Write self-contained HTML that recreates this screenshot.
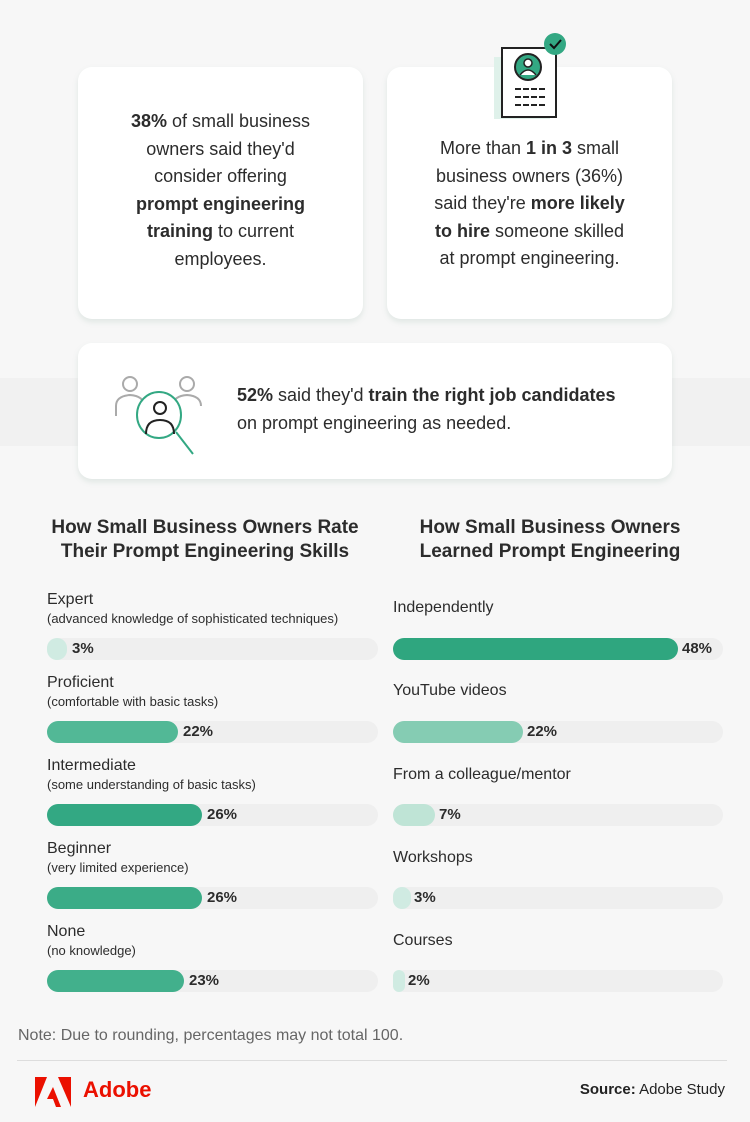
<!DOCTYPE html>
<html><head><meta charset="utf-8"><style>
*{margin:0;padding:0;box-sizing:border-box}
body{width:750px;height:1122px;background:#f7f7f7;font-family:"Liberation Sans",sans-serif;color:#2c2c2c;position:relative;overflow:hidden}
.a{position:absolute;white-space:nowrap}
.card{position:absolute;background:#fff;border-radius:14px;box-shadow:0 3px 6px rgba(120,160,145,0.18)}
.ct{position:absolute;text-align:center;font-size:18px;line-height:27.6px;color:#2c2c2c}
b{font-weight:bold}
.h{position:absolute;text-align:center;font-size:19px;font-weight:bold;line-height:24px;color:#2c2c2c}
.lab{position:absolute;font-size:16px;color:#2c2c2c;white-space:nowrap}
.sub{position:absolute;font-size:13px;color:#2c2c2c;white-space:nowrap}
.bar{position:absolute;height:22px;background:#efefef;border-radius:11px}
.fill{position:absolute;left:0;top:0;height:22px;border-radius:11px}
.v{position:absolute;top:2px;font-size:15px;font-weight:bold;color:#2c2c2c}
</style></head><body>
<div class="a" style="left:0;top:378px;width:750px;height:68px;background:#f1f1f1"></div>
<div class="card" style="left:78px;top:67px;width:285px;height:252px"></div>
<div class="card" style="left:387px;top:67px;width:285px;height:252px"></div>
<div class="card" style="left:78px;top:343px;width:594px;height:136px"></div>

<div class="ct" style="left:78px;top:108px;width:285px"><b>38%</b> of small business<br>owners said they'd<br>consider offering<br><b>prompt engineering</b><br><b>training</b> to current<br>employees.</div>
<div class="ct" style="left:387px;top:135px;width:285px"><span>More than <b>1 in 3</b> small</span><br>business owners (36%)<br>said they're <b>more likely</b><br><b>to hire</b> someone skilled<br>at prompt engineering.</div>
<div class="ct" style="left:237px;top:382px;text-align:left;white-space:nowrap"><b>52%</b> said they'd <b>train the right job candidates</b><br>on prompt engineering as needed.</div>

<svg class="a" style="left:490px;top:30px" width="80" height="105" viewBox="490 30 80 105">
<rect x="494" y="57" width="56" height="62" fill="#dff1ea"/>
<rect x="502" y="48" width="54" height="69" fill="#fff" stroke="#222" stroke-width="2"/>
<circle cx="528" cy="67" r="13" fill="#33a883" stroke="#222" stroke-width="2"/>
<circle cx="528" cy="63" r="4" fill="#fff" stroke="#222" stroke-width="1.5"/>
<path d="M520 75 q8 -10 16 0" fill="#fff" stroke="#222" stroke-width="1.5"/>
<path d="M515 89h31M515 97h31M515 105h31" stroke="#222" stroke-width="2" stroke-dasharray="6 2"/>
<circle cx="555" cy="44" r="11" fill="#33a883"/>
<path d="M550 44l4 4 7-8" stroke="#111" stroke-width="2" fill="none"/>
</svg>
<svg class="a" style="left:110px;top:372px" width="95" height="85" viewBox="110 372 95 85">
<g fill="none" stroke="#aaa" stroke-width="2"><circle cx="130" cy="384" r="7"/><path d="M116 416v-10q0-10 14-11 14 1 14 11"/><circle cx="187" cy="384" r="7"/><path d="M173 416v-10q0-10 14-11 14 1 14 11"/></g>
<ellipse cx="159" cy="415" rx="22" ry="23" fill="#fff" stroke="#33a883" stroke-width="2"/>
<path d="M176 432l17 22" stroke="#33a883" stroke-width="2"/>
<g fill="none" stroke="#222" stroke-width="2"><circle cx="160" cy="408" r="6"/><path d="M146 434q0-14 14-14 14 0 14 14"/></g>
</svg>

<div class="h" style="left:20px;top:516px;width:370px">How Small Business Owners Rate<br>Their Prompt Engineering Skills</div>
<div class="h" style="left:365px;top:516px;width:370px">How Small Business Owners<br>Learned Prompt Engineering</div>

<div class="lab" style="left:47px;top:591px">Expert</div><div class="sub" style="left:47px;top:611px">(advanced knowledge of sophisticated techniques)</div>
<div class="bar" style="left:47px;top:638px;width:331px"><div class="fill" style="width:20px;background:#d0ebe2"></div><div class="v" style="left:25px">3%</div></div>
<div class="lab" style="left:47px;top:674px">Proficient</div><div class="sub" style="left:47px;top:694px">(comfortable with basic tasks)</div>
<div class="bar" style="left:47px;top:721px;width:331px"><div class="fill" style="width:131px;background:#52b896"></div><div class="v" style="left:136px">22%</div></div>
<div class="lab" style="left:47px;top:757px">Intermediate</div><div class="sub" style="left:47px;top:777px">(some understanding of basic tasks)</div>
<div class="bar" style="left:47px;top:804px;width:331px"><div class="fill" style="width:155px;background:#33a883"></div><div class="v" style="left:160px">26%</div></div>
<div class="lab" style="left:47px;top:840px">Beginner</div><div class="sub" style="left:47px;top:860px">(very limited experience)</div>
<div class="bar" style="left:47px;top:887px;width:331px"><div class="fill" style="width:155px;background:#3bac87"></div><div class="v" style="left:160px">26%</div></div>
<div class="lab" style="left:47px;top:923px">None</div><div class="sub" style="left:47px;top:943px">(no knowledge)</div>
<div class="bar" style="left:47px;top:970px;width:331px"><div class="fill" style="width:137px;background:#42b08c"></div><div class="v" style="left:142px">23%</div></div>

<div class="lab" style="left:393px;top:599px">Independently</div>
<div class="bar" style="left:393px;top:638px;width:330px"><div class="fill" style="width:285px;background:#2fa67f"></div><div class="v" style="left:289px">48%</div></div>
<div class="lab" style="left:393px;top:682px">YouTube videos</div>
<div class="bar" style="left:393px;top:721px;width:330px"><div class="fill" style="width:130px;background:#85ccb3"></div><div class="v" style="left:134px">22%</div></div>
<div class="lab" style="left:393px;top:766px">From a colleague/mentor</div>
<div class="bar" style="left:393px;top:804px;width:330px"><div class="fill" style="width:42px;background:#bfe4d6"></div><div class="v" style="left:46px">7%</div></div>
<div class="lab" style="left:393px;top:849px">Workshops</div>
<div class="bar" style="left:393px;top:887px;width:330px"><div class="fill" style="width:18px;background:#d0ebe2"></div><div class="v" style="left:21px">3%</div></div>
<div class="lab" style="left:393px;top:932px">Courses</div>
<div class="bar" style="left:393px;top:970px;width:330px"><div class="fill" style="width:12px;background:#d0ebe2"></div><div class="v" style="left:15px">2%</div></div>

<div class="a" style="left:18px;top:1027px;font-size:16px;color:#666">Note: Due to rounding, percentages may not total 100.</div>
<div class="a" style="left:17px;top:1060px;width:710px;height:1px;background:#ddd"></div>
<svg class="a" style="left:35px;top:1077px" width="36" height="30" viewBox="0 0 36 30">
<polygon points="0,0 12,0 0,30" fill="#eb1000"/><polygon points="23,0 36,0 36,30" fill="#eb1000"/><polygon points="18,10 26,30 21,30 18,22 12,22" fill="#eb1000"/>
</svg>
<div class="a" style="left:83px;top:1077px;font-size:22px;font-weight:bold;color:#eb1000">Adobe</div>
<div class="a" style="right:25px;top:1081px;font-size:15px;color:#222"><b>Source:</b> Adobe Study</div>
</body></html>
